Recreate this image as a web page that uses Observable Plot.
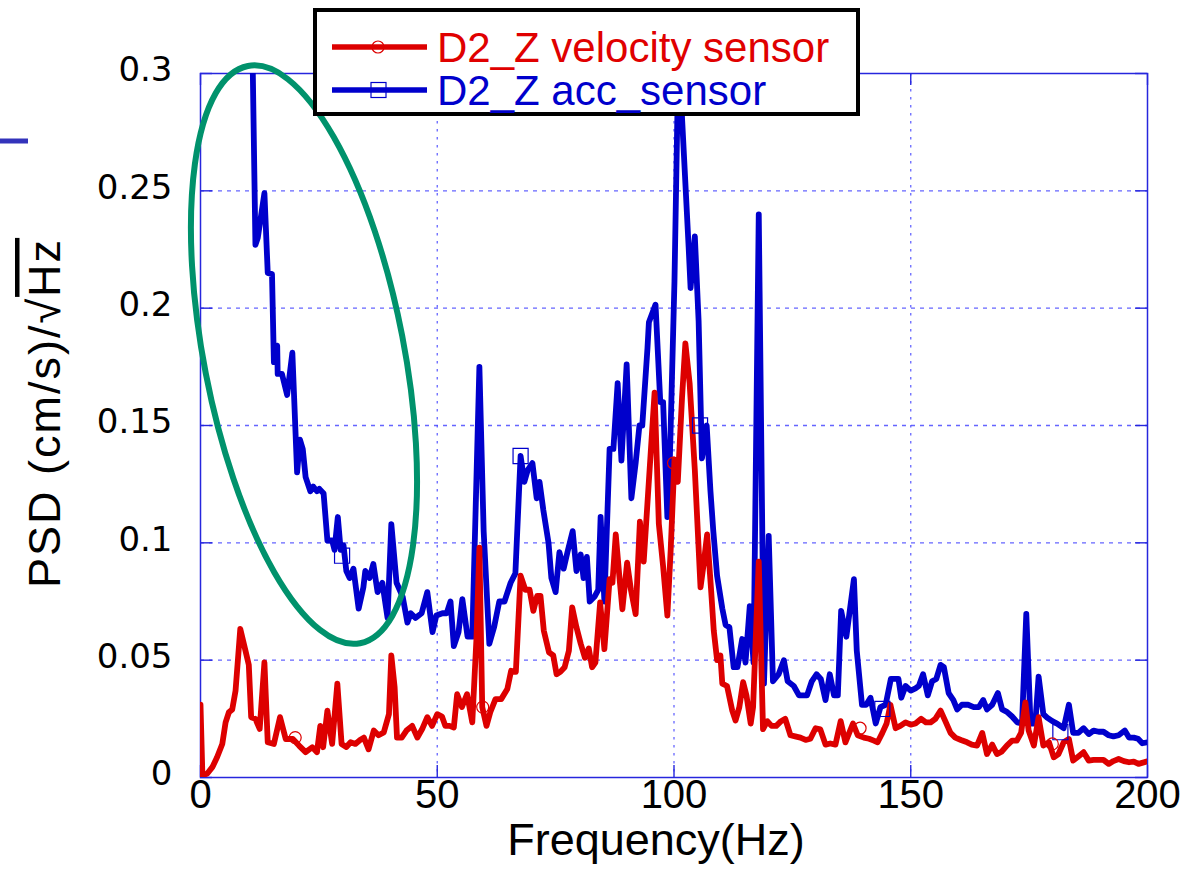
<!DOCTYPE html>
<html><head><meta charset="utf-8">
<script src="https://cdn.jsdelivr.net/npm/d3@7"></script>
<script src="https://cdn.jsdelivr.net/npm/@observablehq/plot@0.6"></script>
<style>
body{margin:0;background:#fff;}
#wrap{position:relative;width:1196px;height:873px;overflow:hidden;background:#fff;}
</style></head><body><div id="wrap"></div>
<script>
// ---------- data ----------
const seriesNames = ["D2_Z velocity sensor", "D2_Z acc_sensor"];
const xTicks = [0, 50, 100, 150, 200];
const xTickLabels = ["0", "50", "100", "150", "200"];
const yTicks = [0, 0.05, 0.1, 0.15, 0.2, 0.25, 0.3];
const yTickLabels = ["0", "0.05", "0.1", "0.15", "0.2", "0.25", "0.3"];
const xTitle = "Frequency(Hz)";
const yTitleMain = "PSD (cm/s)/\u221A";
const yTitleUnder = "Hz";

const velFreq = [0,0.4,1.4,2.5,3.5,4.6,5.3,6.0,6.7,7.4,8.4,9.5,10.2,10.7,11.6,12.5,13.5,14.2,15.5,16.8,18.0,19.5,20.8,22.2,23.6,24.6,25.3,25.9,26.8,27.8,28.9,29.8,30.8,31.7,32.7,33.7,34.5,35.5,36.6,37.6,38.7,39.8,40.3,41.0,41.5,42.5,43.5,44.7,45.8,46.9,47.9,48.9,50.0,51.0,51.7,52.6,53.5,54.2,55.2,56.3,57.4,58.3,58.9,59.5,60.4,61.2,62.3,63.5,64.8,65.6,66.6,67.6,68.6,69.5,70.3,71.1,71.8,72.5,73.6,74.5,75.2,76.0,76.9,77.8,78.5,79.4,80.3,81.2,82.0,82.7,83.4,84.4,85.3,86.4,87.0,87.7,88.4,89.1,90.1,90.9,91.9,92.8,93.6,94.3,95.9,96.8,97.7,98.6,99.3,100.1,100.8,101.7,102.4,103.3,104.4,105.6,106.2,107.0,107.8,108.4,109.1,109.8,110.2,111.2,112.3,113.0,113.8,114.6,115.3,116.2,116.7,117.9,118.8,119.7,120.6,121.6,122.6,123.5,124.6,125.6,126.7,127.8,128.8,129.9,130.9,132.0,133.0,134.1,135.2,136.2,137.8,138.8,140.1,141.2,142.2,143.0,144.0,144.9,145.7,146.8,147.8,148.9,150.0,151.0,152.2,153.2,154.2,155.2,156.3,157.3,158.4,159.4,160.6,161.9,162.9,164.0,165.1,166.1,167.2,168.2,169.2,170.3,171.4,172.4,173.3,174.2,174.9,176.0,177.0,178.0,179.2,180.2,181.2,182.3,183.4,184.3,185.4,186.5,187.6,188.6,189.7,190.7,191.8,192.8,193.9,195.0,196.1,197.1,198.1,200.0];
const velPsd = [0.031,0.001,0.0016,0.0044,0.0086,0.0143,0.0235,0.0278,0.029,0.037,0.0633,0.054,0.048,0.0257,0.025,0.0207,0.049,0.015,0.0143,0.0257,0.0164,0.0164,0.0136,0.0108,0.0129,0.0108,0.022,0.0129,0.0285,0.0143,0.040,0.0143,0.013,0.015,0.0143,0.016,0.017,0.012,0.020,0.018,0.0192,0.027,0.052,0.0384,0.017,0.017,0.020,0.022,0.017,0.021,0.0257,0.022,0.027,0.026,0.022,0.022,0.0213,0.0355,0.030,0.0355,0.0235,0.060,0.098,0.030,0.022,0.0278,0.0334,0.0334,0.0377,0.0455,0.045,0.086,0.080,0.080,0.071,0.0774,0.0774,0.0626,0.0533,0.052,0.044,0.045,0.047,0.054,0.0725,0.064,0.057,0.051,0.055,0.047,0.049,0.0746,0.0547,0.0845,0.083,0.1036,0.087,0.0717,0.0916,0.080,0.0696,0.109,0.092,0.114,0.164,0.108,0.090,0.069,0.097,0.1355,0.126,0.162,0.185,0.168,0.131,0.081,0.090,0.1036,0.081,0.0626,0.050,0.052,0.040,0.039,0.0285,0.0243,0.030,0.0406,0.035,0.023,0.030,0.092,0.0206,0.024,0.022,0.022,0.024,0.025,0.018,0.0175,0.017,0.016,0.0165,0.021,0.0205,0.014,0.0145,0.014,0.024,0.015,0.023,0.018,0.017,0.0165,0.0157,0.015,0.019,0.023,0.031,0.021,0.022,0.0235,0.0225,0.023,0.025,0.0235,0.0235,0.025,0.0285,0.024,0.019,0.017,0.016,0.015,0.014,0.0136,0.019,0.010,0.014,0.010,0.011,0.0136,0.0157,0.0157,0.019,0.032,0.020,0.0136,0.0257,0.0136,0.015,0.0086,0.010,0.015,0.0164,0.0072,0.009,0.0108,0.0072,0.0075,0.0075,0.0075,0.0058,0.007,0.0079,0.007,0.0065,0.0068,0.0058,0.0069];

const accFreq = [10.9,11.6,12.1,13.5,14.2,15.1,15.5,16.2,16.3,17.2,18.3,19.4,20.4,21.0,21.6,22.2,23.2,23.8,24.6,25.1,26.0,26.8,27.8,28.3,29.0,29.6,30.2,30.8,31.5,32.3,33.4,34.4,34.8,35.7,36.5,37.4,38.4,39.5,40.3,41.4,42.7,43.7,44.4,45.4,46.7,47.9,49.0,49.8,51.1,52.0,52.8,53.5,54.5,55.3,56.4,57.4,58.9,59.8,61.0,62.0,63.1,64.2,65.5,66.5,67.6,68.4,69.1,70.1,71.0,71.6,72.4,73.5,74.1,75.0,75.8,76.7,77.5,78.6,79.4,80.3,80.9,81.6,82.2,83.2,84.0,84.5,85.3,86.4,87.2,88.1,88.9,90.0,91.0,91.9,92.7,93.3,94.4,94.7,96.1,97.1,97.7,98.6,99.0,100.1,100.7,101.3,101.7,103.1,103.5,104.4,105.2,105.9,106.9,107.7,108.3,109.1,110.2,110.9,111.7,112.6,113.4,114.4,115.1,116.0,116.8,117.9,119.0,120.0,120.9,122.1,123.2,124.0,125.3,126.4,128.1,129.1,130.1,131.0,132.0,132.9,133.8,134.6,135.3,136.4,138.0,138.6,139.7,140.6,141.5,142.6,143.6,144.7,145.8,147.4,148.0,148.9,150.0,151.0,151.7,152.6,153.6,154.5,155.4,156.3,157.0,158.0,159.0,159.8,160.8,162.1,163.3,164.4,165.3,166.1,167.2,168.4,169.3,170.3,171.4,172.5,173.5,174.4,175.3,176.3,177.0,178.0,178.8,179.9,180.9,182.3,183.4,184.3,185.4,186.5,187.6,188.6,189.7,190.7,191.8,192.8,193.9,195.2,196.1,197.1,198.0,198.9,200.0];
const accPsd = [0.32,0.227,0.230,0.249,0.215,0.2145,0.177,0.184,0.172,0.172,0.163,0.181,0.130,0.144,0.140,0.128,0.122,0.124,0.122,0.123,0.121,0.101,0.101,0.097,0.111,0.097,0.099,0.088,0.085,0.089,0.072,0.081,0.088,0.085,0.091,0.079,0.083,0.068,0.108,0.083,0.077,0.066,0.070,0.068,0.070,0.079,0.062,0.069,0.070,0.070,0.075,0.056,0.062,0.076,0.060,0.060,0.175,0.105,0.057,0.064,0.075,0.075,0.083,0.087,0.137,0.126,0.131,0.134,0.119,0.126,0.114,0.100,0.085,0.079,0.096,0.089,0.096,0.105,0.088,0.095,0.085,0.094,0.075,0.077,0.080,0.111,0.075,0.140,0.140,0.168,0.135,0.176,0.119,0.134,0.150,0.150,0.183,0.194,0.2015,0.160,0.160,0.111,0.126,0.2115,0.281,0.315,0.281,0.2257,0.2086,0.2306,0.1945,0.136,0.150,0.122,0.105,0.086,0.072,0.065,0.064,0.047,0.047,0.059,0.049,0.073,0.049,0.240,0.040,0.103,0.041,0.044,0.050,0.041,0.039,0.035,0.035,0.041,0.044,0.042,0.033,0.044,0.035,0.035,0.071,0.060,0.0845,0.054,0.031,0.031,0.034,0.023,0.030,0.031,0.042,0.042,0.034,0.039,0.037,0.038,0.039,0.044,0.035,0.041,0.042,0.048,0.047,0.036,0.033,0.029,0.031,0.031,0.030,0.030,0.033,0.029,0.031,0.036,0.029,0.028,0.026,0.0235,0.023,0.0697,0.023,0.023,0.043,0.027,0.0255,0.024,0.023,0.021,0.031,0.019,0.019,0.021,0.0185,0.020,0.0195,0.0195,0.018,0.0175,0.018,0.020,0.017,0.017,0.0165,0.0146,0.015];

const velMarkFreq = [20.0, 59.6, 99.9, 139.3, 179.9];
const velMarkPsd  = [0.017, 0.030, 0.134, 0.021, 0.0143];
const accMarkFreq = [29.9, 67.6, 105.5, 144.0, 181.6];
const accMarkPsd  = [0.0945, 0.137, 0.150, 0.0292, 0.0193];

// annotation ellipse (center in data units)
const ellipseCenterFreq = 21.96, ellipseCenterPsd = 0.180;

// ---------- styles ----------
const RED = "#dd0000", BLUE = "#0000cc", GRID = "#4a4aff", FRAME = "#2626dd";
const W = 1196, H = 873, mL = 200, mR = 49, mT = 73, mB = 96;
const tickPx = 12;
const xTickLen = 200 * tickPx / (W - mL - mR);
const yTickLen = 0.3 * tickPx / (H - mT - mB);

const vel = velFreq.map((f, i) => ({freq: f, psd: velPsd[i]}));
const acc = accFreq.map((f, i) => ({freq: f, psd: accPsd[i]}));
const velM = velMarkFreq.map((f, i) => ({freq: f, psd: velMarkPsd[i]}));
const accM = accMarkFreq.map((f, i) => ({freq: f, psd: accMarkPsd[i]}));

const tickFont = "'Liberation Sans', Arial, sans-serif";

const chart = Plot.plot({
  width: W, height: H,
  marginLeft: mL, marginRight: mR, marginTop: mT, marginBottom: mB,
  x: {domain: [0, 200], axis: null},
  y: {domain: [0, 0.3], axis: null},
  style: {background: "white", overflow: "visible"},
  marks: [
    Plot.ruleY(yTicks.slice(1, -1), {stroke: GRID, strokeWidth: 1.3, strokeDasharray: "4,5", strokeOpacity: 0.85}),
    Plot.ruleX(xTicks.slice(1, -1), {stroke: GRID, strokeWidth: 1.3, strokeDasharray: "2.5,5.5", strokeOpacity: 0.85}),
    Plot.ruleY(yTicks, {x1: 0, x2: xTickLen, stroke: FRAME, strokeWidth: 1.4}),
    Plot.ruleY(yTicks, {x1: 200 - xTickLen, x2: 200, stroke: FRAME, strokeWidth: 1.4}),
    Plot.ruleX(xTicks, {y1: 0, y2: yTickLen, stroke: FRAME, strokeWidth: 1.4}),
    Plot.ruleX(xTicks, {y1: 0.3 - yTickLen, y2: 0.3, stroke: FRAME, strokeWidth: 1.4}),
    Plot.frame({stroke: FRAME, strokeWidth: 1.5}),
    Plot.line(acc, {x: "freq", y: "psd", stroke: BLUE, strokeWidth: 5.8, clip: true}),
    Plot.line(vel, {x: "freq", y: "psd", stroke: RED, strokeWidth: 5.8, clip: true}),
    Plot.dot(accM, {x: "freq", y: "psd", symbol: "square", r: 8.5, stroke: BLUE, strokeWidth: 1.2, fill: "none"}),
    Plot.dot(velM, {x: "freq", y: "psd", symbol: "circle", r: 6, stroke: RED, strokeWidth: 1.2, fill: "none"}),
    Plot.text(xTicks, {x: d => d, text: (d, i) => xTickLabels[i], frameAnchor: "bottom", dy: 30, fontSize: 40, fontFamily: tickFont, fill: "black"}),
    Plot.text(yTicks, {y: d => d, text: (d, i) => yTickLabels[i], frameAnchor: "left", dx: -28, dy: -3, textAnchor: "end", fontSize: 34, fontFamily: "'DejaVu Sans', sans-serif", fill: "black"}),
    Plot.text([xTitle], {text: d => d, frameAnchor: "bottom", dy: 77, dx: -18, fontSize: 45, fontFamily: tickFont, fill: "black"})
  ]
});

document.getElementById("wrap").appendChild(chart);

const svg = d3.select(chart);
const xs = chart.scale("x"), ys = chart.scale("y");

// y axis title
const yt = svg.append("text")
  .attr("transform", `translate(60, ${(mT + H - mB) / 2 - 12}) rotate(-90)`)
  .attr("text-anchor", "middle")
  .attr("font-family", tickFont)
  .attr("font-size", 45)
  .attr("letter-spacing", 2)
  .attr("fill", "black");
yt.append("tspan").text(yTitleMain);
yt.append("tspan").text(yTitleUnder).style("text-decoration", "overline");

// slide artifact line at left
svg.append("line").attr("x1", 0).attr("x2", 28).attr("y1", 141).attr("y2", 141)
  .attr("stroke", "#3333bb").attr("stroke-width", 5);

// annotation ellipse
const ecx = xs.apply(ellipseCenterFreq), ecy = ys.apply(ellipseCenterPsd);
svg.append("ellipse").attr("cx", ecx).attr("cy", ecy).attr("rx", 100).attr("ry", 294)
  .attr("transform", `rotate(-11 ${ecx} ${ecy})`)
  .attr("fill", "none").attr("stroke", "#00926c").attr("stroke-width", 6);

// legend
const lg = svg.append("g").attr("text-anchor", "start");
lg.append("rect").attr("x", 315).attr("y", 10).attr("width", 543).attr("height", 104)
  .attr("fill", "white").attr("stroke", "black").attr("stroke-width", 4);
const rows = [
  {name: seriesNames[0], color: RED, y: 47, sym: "circle"},
  {name: seriesNames[1], color: BLUE, y: 90, sym: "square"}
];
rows.forEach(r => {
  lg.append("line").attr("x1", 332).attr("x2", 427).attr("y1", r.y).attr("y2", r.y)
    .attr("stroke", r.color).attr("stroke-width", 5.5);
  if (r.sym === "circle") {
    lg.append("circle").attr("cx", 378).attr("cy", r.y).attr("r", 6)
      .attr("fill", "none").attr("stroke", r.color).attr("stroke-width", 1.2);
  } else {
    lg.append("rect").attr("x", 371).attr("y", r.y - 7.5).attr("width", 15).attr("height", 15)
      .attr("fill", "none").attr("stroke", r.color).attr("stroke-width", 1.2);
  }
  lg.append("text").attr("x", 437).attr("y", r.y + 15).attr("font-size", 42)
    .attr("text-anchor", "start")
    .attr("font-family", tickFont).attr("fill", r.color === RED ? "#e00000" : "#0000cc")
    .text(r.name);
});
</script>
</body></html>
